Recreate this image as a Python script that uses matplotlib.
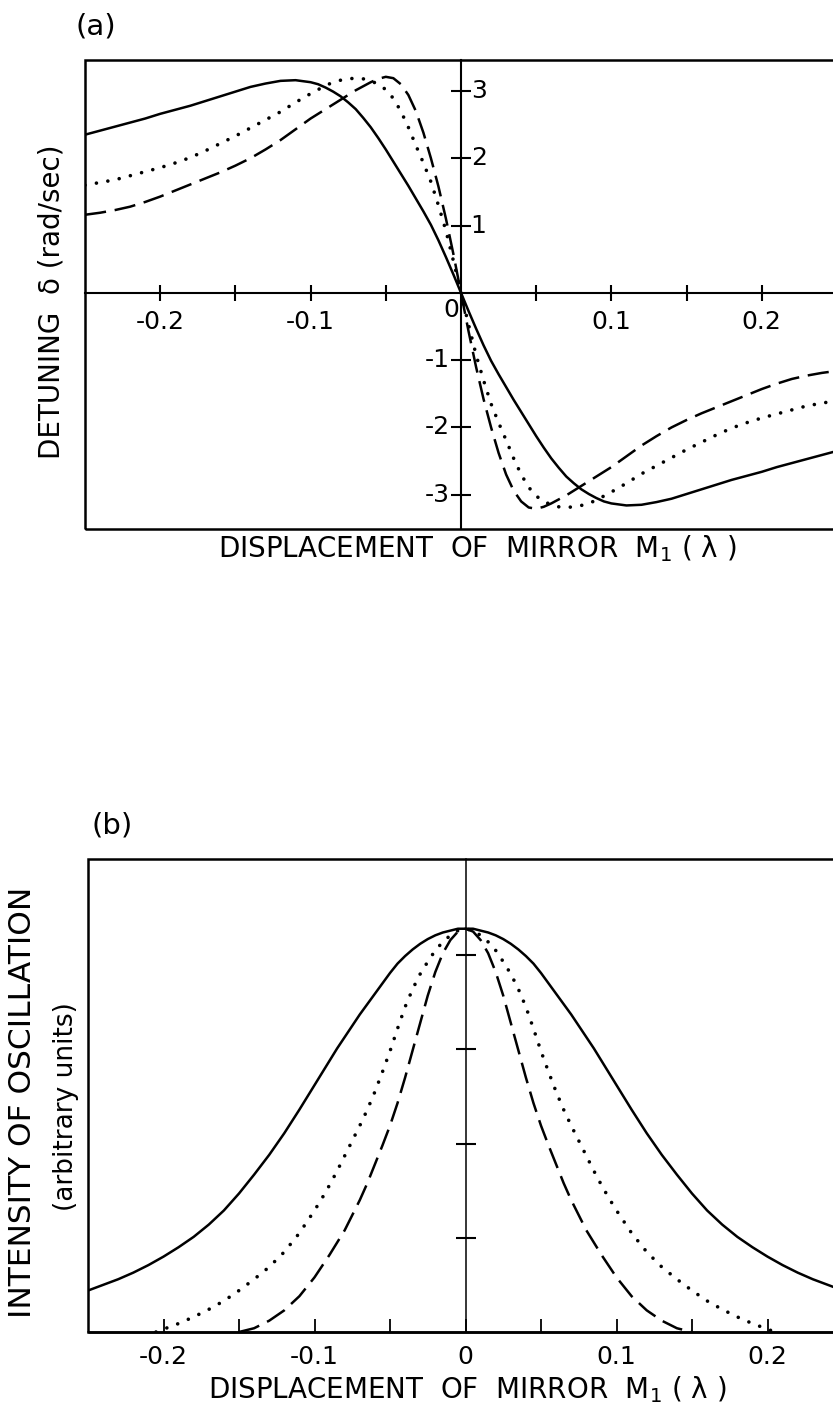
import matplotlib
matplotlib.use("Agg")
import matplotlib.pyplot as plt
from matplotlib.patches import Rectangle

plt.rcParams['font.family'] = ['DejaVu Sans']

# ---------------- data: panel (a) detuning ----------------
x_a = [-0.25, -0.24, -0.23, -0.22, -0.21, -0.20, -0.19, -0.18, -0.17, -0.16, -0.15, -0.14, -0.13, -0.12, -0.11, -0.10,
       -0.095, -0.09, -0.085, -0.08, -0.075, -0.07, -0.065, -0.06, -0.055, -0.05, -0.045, -0.04, -0.035, -0.03, -0.025,
       -0.02, -0.015, -0.01, -0.005, 0.0, 0.005, 0.01, 0.015, 0.02, 0.025, 0.03, 0.035, 0.04, 0.045, 0.05, 0.055, 0.06,
       0.065, 0.07, 0.075, 0.08, 0.085, 0.09, 0.095, 0.10, 0.11, 0.12, 0.13, 0.14, 0.15, 0.16, 0.17, 0.18, 0.19, 0.20,
       0.21, 0.22, 0.23, 0.24, 0.25]

detuning_solid = [2.35, 2.41, 2.47, 2.53, 2.59, 2.66, 2.72, 2.78, 2.85, 2.92, 2.99, 3.06, 3.11, 3.15, 3.16, 3.13,
                  3.10, 3.05, 2.99, 2.92, 2.83, 2.73, 2.60, 2.46, 2.30, 2.13, 1.95, 1.77, 1.59, 1.40, 1.21, 1.01,
                  0.78, 0.53, 0.27, 0.0, -0.27, -0.53, -0.78, -1.01, -1.21, -1.40, -1.59, -1.77, -1.95, -2.13, -2.30,
                  -2.46, -2.60, -2.73, -2.83, -2.92, -2.99, -3.05, -3.10, -3.13, -3.16, -3.15, -3.11, -3.06, -2.99,
                  -2.92, -2.85, -2.78, -2.72, -2.66, -2.59, -2.53, -2.47, -2.41, -2.35]

detuning_dotted = [1.60, 1.64, 1.68, 1.74, 1.80, 1.86, 1.93, 2.01, 2.11, 2.22, 2.33, 2.45, 2.57, 2.69, 2.83, 2.96,
                   3.02, 3.08, 3.13, 3.16, 3.18, 3.19, 3.18, 3.15, 3.10, 3.02, 2.89, 2.70, 2.46, 2.19, 1.93, 1.65,
                   1.30, 0.92, 0.47, 0.0, -0.47, -0.92, -1.30, -1.65, -1.93, -2.19, -2.46, -2.70, -2.89, -3.02, -3.10,
                   -3.15, -3.18, -3.19, -3.18, -3.16, -3.13, -3.08, -3.02, -2.96, -2.83, -2.69, -2.57, -2.45, -2.33,
                   -2.22, -2.11, -2.01, -1.93, -1.86, -1.80, -1.74, -1.68, -1.64, -1.60]

detuning_dashed = [1.16, 1.19, 1.23, 1.28, 1.35, 1.43, 1.52, 1.61, 1.70, 1.79, 1.89, 2.00, 2.13, 2.27, 2.43, 2.59,
                   2.66, 2.73, 2.80, 2.87, 2.94, 3.01, 3.07, 3.13, 3.18, 3.21, 3.19, 3.10, 2.94, 2.70, 2.38, 2.00,
                   1.58, 1.10, 0.57, 0.0, -0.57, -1.10, -1.58, -2.00, -2.38, -2.70, -2.94, -3.10, -3.19, -3.21, -3.18,
                   -3.13, -3.07, -3.01, -2.94, -2.87, -2.80, -2.73, -2.66, -2.59, -2.43, -2.27, -2.13, -2.00, -1.89,
                   -1.79, -1.70, -1.61, -1.52, -1.43, -1.35, -1.28, -1.23, -1.19, -1.16]

# ---------------- data: panel (b) intensity ----------------
x_b_solid = x_a
intensity_solid = [0.44, 0.50, 0.56, 0.63, 0.71, 0.80, 0.90, 1.01, 1.14, 1.29, 1.47, 1.67, 1.88, 2.11, 2.36, 2.62,
                   2.75, 2.88, 3.01, 3.13, 3.25, 3.37, 3.48, 3.59, 3.70, 3.81, 3.91, 3.99, 4.06, 4.12, 4.17, 4.21,
                   4.24, 4.26, 4.28, 4.28, 4.28, 4.26, 4.24, 4.21, 4.17, 4.12, 4.06, 3.99, 3.91, 3.81, 3.70, 3.59,
                   3.48, 3.37, 3.25, 3.13, 3.01, 2.88, 2.75, 2.62, 2.36, 2.11, 1.88, 1.67, 1.47, 1.29, 1.14, 1.01,
                   0.90, 0.80, 0.71, 0.63, 0.56, 0.50, 0.44]

x_b_dotted = [-0.205, -0.20, -0.19, -0.18, -0.17, -0.16, -0.15, -0.14, -0.13, -0.12, -0.11, -0.10,
              -0.095, -0.09, -0.085, -0.08, -0.075, -0.07, -0.065, -0.06, -0.055, -0.05, -0.045, -0.04, -0.035,
              -0.03, -0.025, -0.02, -0.015, -0.01, -0.005, 0.0, 0.005, 0.01, 0.015, 0.02, 0.025, 0.03, 0.035,
              0.04, 0.045, 0.05, 0.055, 0.06, 0.065, 0.07, 0.075, 0.08, 0.085, 0.09, 0.095,
              0.10, 0.11, 0.12, 0.13, 0.14, 0.15, 0.16, 0.17, 0.18, 0.19, 0.20, 0.205]
intensity_dotted = [0.0, 0.03, 0.09, 0.16, 0.24, 0.33, 0.44, 0.56, 0.69, 0.85, 1.05, 1.29,
                    1.42, 1.56, 1.71, 1.87, 2.03, 2.19, 2.36, 2.55, 2.76, 2.98, 3.22, 3.45, 3.64,
                    3.80, 3.93, 4.05, 4.14, 4.21, 4.26, 4.28, 4.26, 4.21, 4.14, 4.05, 3.93, 3.80, 3.64,
                    3.45, 3.22, 2.98, 2.76, 2.55, 2.36, 2.19, 2.03, 1.87, 1.71, 1.56, 1.42,
                    1.29, 1.05, 0.85, 0.69, 0.56, 0.44, 0.33, 0.24, 0.16, 0.09, 0.03, 0.0]

x_b_dashed = [-0.15, -0.14, -0.13, -0.12, -0.11, -0.10,
              -0.095, -0.09, -0.085, -0.08, -0.075, -0.07, -0.065, -0.06, -0.055, -0.05, -0.045, -0.04, -0.035,
              -0.03, -0.025, -0.02, -0.015, -0.01, -0.005, 0.0, 0.005, 0.01, 0.015, 0.02, 0.025, 0.03, 0.035,
              0.04, 0.045, 0.05, 0.055, 0.06, 0.065, 0.07, 0.075, 0.08, 0.085, 0.09, 0.095,
              0.10, 0.11, 0.12, 0.13, 0.14, 0.15]
intensity_dashed = [0.0, 0.04, 0.12, 0.23, 0.38, 0.58,
                    0.70, 0.82, 0.95, 1.08, 1.24, 1.40, 1.58, 1.78, 1.98, 2.19, 2.43, 2.70, 2.99,
                    3.28, 3.57, 3.82, 4.02, 4.16, 4.25, 4.28, 4.25, 4.16, 4.02, 3.82, 3.57, 3.28, 2.99,
                    2.70, 2.43, 2.19, 1.98, 1.78, 1.58, 1.40, 1.24, 1.08, 0.95, 0.82, 0.70,
                    0.58, 0.38, 0.23, 0.12, 0.04, 0.0]

# tick definitions
xticks_a = [-0.2, -0.15, -0.1, -0.05, 0.05, 0.1, 0.15, 0.2]
xticklabels_a = ['-0.2', '', '-0.1', '', '', '0.1', '', '0.2']
yticks_a = [-3, -2, -1, 1, 2, 3]
xticks_b = [-0.2, -0.15, -0.1, -0.05, 0.0, 0.05, 0.1, 0.15, 0.2]
xticklabels_b = ['-0.2', '', '-0.1', '', '0', '', '0.1', '', '0.2']
yticks_b = [1, 2, 3, 4]

W, H = 833, 1410
fig = plt.figure(figsize=(W / 100, H / 100), dpi=100)

TICK_FS = 18
LW = 1.8


def draw_curves(ax, xs, ys):
    (xs1, xs2, xs3), (ys1, ys2, ys3) = xs, ys
    ax.plot(xs1, ys1, color='black', lw=LW, solid_capstyle='round')
    ax.plot(xs2, ys2, color='black', lw=2.6, linestyle=(0, (0.01, 3.2)), dash_capstyle='round')
    ax.plot(xs3, ys3, color='black', lw=LW, linestyle=(0, (8.5, 3.5)))


# ---------------- panel (a) ----------------
axA = fig.add_axes([85 / W, 1 - 529 / H, (837 - 85) / W, (529 - 60) / H])
axA.set_xlim(-0.25, 0.25)
axA.set_ylim(-3.51, 3.46)
draw_curves(axA, (x_a, x_a, x_a), (detuning_solid, detuning_dotted, detuning_dashed))

for s in ['top', 'right']:
    axA.spines[s].set_visible(False)
axA.spines['left'].set_position(('data', 0))
axA.spines['bottom'].set_position(('data', 0))
axA.spines['left'].set_linewidth(1.5)
axA.spines['bottom'].set_linewidth(1.5)
axA.add_patch(Rectangle((0, 0), 1, 1, transform=axA.transAxes, fill=False,
                        lw=LW, edgecolor='black', clip_on=False, zorder=5))
axA.set_xticks(xticks_a, xticklabels_a)
axA.tick_params(axis='x', direction='inout', length=11, width=1.5, labelsize=TICK_FS, pad=7)
axA.set_yticks(yticks_a)
axA.tick_params(axis='y', direction='inout', length=14.5, width=1.5, labelleft=False)
for v in yticks_a:
    if v > 0:
        axA.annotate(str(v), xy=(0, v), xytext=(7, 0), textcoords='offset points',
                     ha='left', va='center', fontsize=TICK_FS)
    else:
        axA.annotate(str(v), xy=(0, v), xytext=(-8, 0), textcoords='offset points',
                     ha='right', va='center', fontsize=TICK_FS)
axA.annotate('0', xy=(0, 0), xytext=(-1.5, -4), textcoords='offset points',
             ha='right', va='top', fontsize=TICK_FS)

fig.text(96 / W, 1 - 26 / H, '(a)', fontsize=21, ha='center', va='center')
fig.text(52 / W, 1 - 302 / H, 'DETUNING  δ (rad/sec)', fontsize=20, rotation=90,
         ha='center', va='center')
fig.text(477 / W, 1 - 549 / H, 'DISPLACEMENT  OF  MIRROR  M$_1$ ( λ )', fontsize=20,
         ha='center', va='center')

# ---------------- panel (b) ----------------
axB = fig.add_axes([88 / W, 1 - 1332 / H, (843 - 88) / W, (1332 - 859) / H])
axB.set_xlim(-0.25, 0.25)
axB.set_ylim(0, 5.02)
draw_curves(axB, (x_b_solid, x_b_dotted, x_b_dashed),
            (intensity_solid, intensity_dotted, intensity_dashed))

for s in ['top', 'right']:
    axB.spines[s].set_visible(False)
axB.spines['left'].set_position(('data', 0))
axB.spines['left'].set_linewidth(1.1)
axB.spines['bottom'].set_linewidth(LW)
axB.add_patch(Rectangle((0, 0), 1, 1, transform=axB.transAxes, fill=False,
                        lw=LW, edgecolor='black', clip_on=False, zorder=5))
axB.set_xticks(xticks_b, xticklabels_b)
axB.tick_params(axis='x', direction='in', length=9.5, width=1.3, labelsize=TICK_FS, pad=9)
axB.set_yticks(yticks_b)
axB.tick_params(axis='y', direction='inout', length=14.5, width=1.5, labelleft=False)

fig.text(112 / W, 1 - 826 / H, '(b)', fontsize=21, ha='center', va='center')
fig.text(23 / W, 1 - 1102 / H, 'INTENSITY OF OSCILLATION', fontsize=22.5, rotation=90,
         ha='center', va='center')
fig.text(66 / W, 1 - 1107 / H, '(arbitrary units)', fontsize=19, rotation=90,
         ha='center', va='center')
fig.text(467 / W, 1 - 1390 / H, 'DISPLACEMENT  OF  MIRROR  M$_1$ ( λ )', fontsize=20,
         ha='center', va='center')

fig.savefig('out.png', dpi=100, facecolor='white')
